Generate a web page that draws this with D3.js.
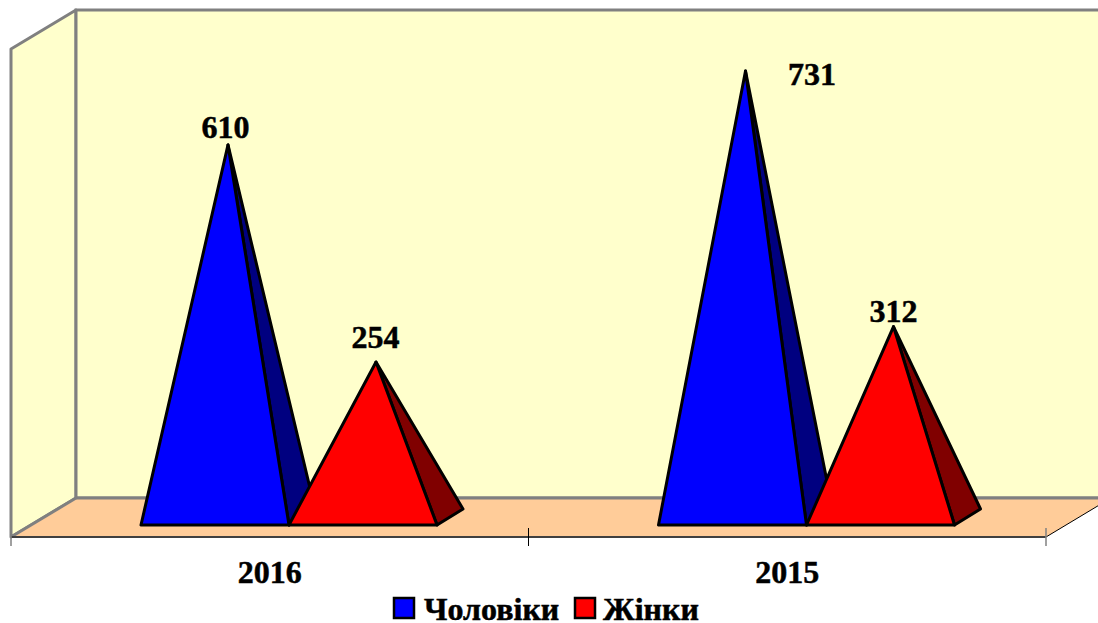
<!DOCTYPE html>
<html><head><meta charset="utf-8">
<script src="https://cdn.jsdelivr.net/npm/d3@7/dist/d3.min.js"></script>
<style>html,body{margin:0;padding:0;background:#fff;overflow:hidden}svg{display:block}
text{font-family:"Liberation Serif",serif;font-weight:bold;fill:#000;stroke:#000;stroke-width:0.5px}</style></head>
<body><svg id="c" width="1098" height="623"></svg>
<script>
const categories = ["2016", "2015"];
const seriesNames = ["Чоловіки", "Жінки"];
const men = [610, 731];
const women = [254, 312];
const seriesValues = [men, women];
const seriesColors = ["#0000FF", "#FF0000"];
const sideColors = ["#000080", "#800000"];
const yDomain = [0, 800];

const W = 1098, H = 623;
const plot = {left: 11, right: 1046, floorFront: 537, floorBack: 498, top: 10};
const depth = {x: 65, y: plot.floorFront - plot.floorBack};
const svg = d3.select("#c");
const x0 = d3.scaleBand().domain(categories).range([plot.left, plot.right]);
const x1 = d3.scaleBand().domain(seriesNames).range([0, 296]);
// y(0) sits at mid depth of the floor
const y = d3.scaleLinear().domain(yDomain).range([517, 29]);
const line = d3.line();

const clip = svg.append("defs").append("clipPath").attr("id", "pc");
clip.append("rect").attr("width", W).attr("height", H);
const g = svg.append("g").attr("clip-path", "url(#pc)");

const wallFill = "#FFFFCC", floorFill = "#FFCC99", wallStroke = "#808080";
const L = plot.left, R = plot.right, F = plot.floorFront, B = plot.floorBack, T = plot.top;
const dx = depth.x, dy = depth.y;
// side wall
g.append("path").attr("d", line([[L,F],[L,T+dy],[L+dx,T],[L+dx,B]])+"Z")
  .attr("fill", wallFill).attr("stroke", wallStroke).attr("stroke-width", 3).attr("stroke-linejoin","round");
// back wall
g.append("path").attr("d", line([[L+dx,B],[L+dx,T],[R+dx,T],[R+dx,B]])+"Z")
  .attr("fill", wallFill).attr("stroke", wallStroke).attr("stroke-width", 3);
// floor
g.append("path").attr("d", line([[L,F],[L+dx,B],[R+dx,B],[R,F]])+"Z").attr("fill", floorFill);
g.append("path").attr("d", line([[L,F],[L+dx,B]])).attr("stroke", wallStroke).attr("stroke-width", 3).attr("fill","none");
g.append("path").attr("d", line([[L+dx,B],[R+dx,B]])).attr("stroke", wallStroke).attr("stroke-width", 3).attr("fill","none");
g.append("path").attr("d", line([[R,F],[R+dx,B]])).attr("stroke", "#000").attr("stroke-width", 1).attr("fill","none");

// axis line and ticks
const tickXs = [L, x0(categories[1]), R];
g.append("line").attr("x1",L).attr("x2",R).attr("y1",F).attr("y2",F).attr("stroke","#404040").attr("stroke-width",2);
g.selectAll(".tick").data(tickXs).join("line").attr("class","tick")
  .attr("x1",d=>d).attr("x2",d=>d).attr("y1",F-9).attr("y2",F+9)
  .attr("stroke",(d,i)=>i==1?"#000":"#808080").attr("stroke-width",(d,i)=>i==1?1:1.5);

// pyramids
const baseDepth = {x: 26, y: 16};
const frontY = 525;
const frontShift = (F - frontY) * dx / dy - 0.75;
const labelOffset = [[[-2.5,-7],[-0.5,-14]],[[66.5,14],[0,-5]]];
categories.forEach((c, ci) => {
  const gx = x0(c) + (x0.bandwidth() - x1.range()[1]) / 2 + frontShift;
  seriesNames.forEach((s, si) => {
    const v = seriesValues[si][ci];
    const xl = gx + x1(s), xr = xl + x1.bandwidth();
    const ax = (xl + xr) / 2 + baseDepth.x / 2, ay = y(v);
    const pg = g.append("g").attr("stroke","#000").attr("stroke-width",3).attr("stroke-linejoin","round");
    pg.append("path").attr("d", line([[xr,frontY],[xr+baseDepth.x,frontY-baseDepth.y],[ax,ay]])+"Z").attr("fill", sideColors[si]);
    pg.append("path").attr("d", line([[xl,frontY],[xr,frontY],[ax,ay]])+"Z").attr("fill", seriesColors[si]);
  });
});
// value labels drawn above the marks
categories.forEach((c, ci) => {
  const gx = x0(c) + (x0.bandwidth() - x1.range()[1]) / 2 + frontShift;
  seriesNames.forEach((s, si) => {
    const v = seriesValues[si][ci];
    const ax = gx + x1(s) + x1.bandwidth()/2 + baseDepth.x/2;
    g.append("text").attr("x", ax + labelOffset[ci][si][0]).attr("y", y(v) + labelOffset[ci][si][1])
      .attr("text-anchor","middle").attr("font-size",32).text(v);
  });
});
// category labels
g.selectAll(".cat").data(categories).join("text").attr("class","cat")
  .attr("x", d=>x0(d)+x0.bandwidth()/2).attr("y",583).attr("text-anchor","middle").attr("font-size",32).text(d=>d);
// legend
const legendX = [394, 575], legendTextX = [424, 603];
seriesNames.forEach((s,i)=>{
  g.append("rect").attr("x",legendX[i]).attr("y",598).attr("width",20).attr("height",20)
   .attr("fill",seriesColors[i]).attr("stroke","#000").attr("stroke-width",2.5);
  g.append("text").attr("x",legendTextX[i]).attr("y",620).attr("font-size",32).text(s);
});
</script></body></html>
